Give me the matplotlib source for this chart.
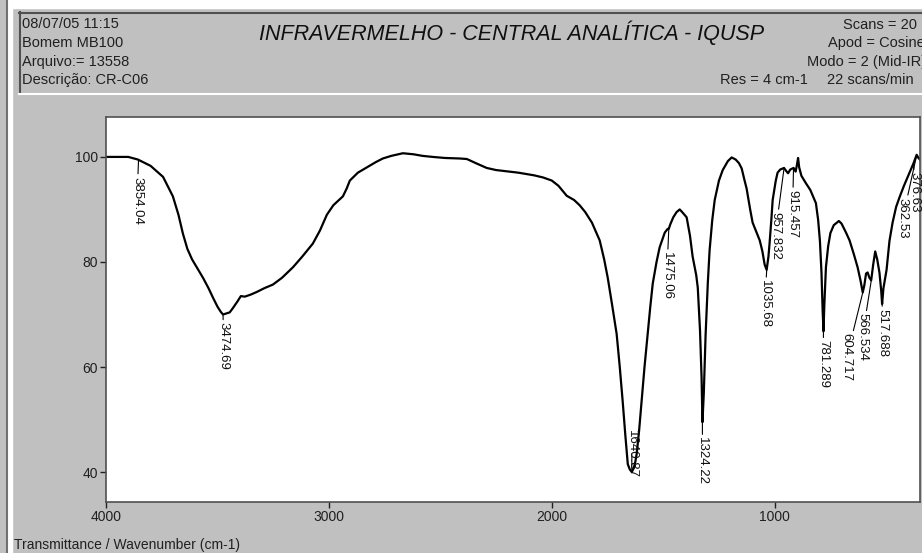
import matplotlib.pyplot as plt
from matplotlib.lines import Line2D
from matplotlib.patches import Rectangle

plt.rcParams['font.family'] = ['Liberation Sans', 'DejaVu Sans']

# spectrum (wavenumber cm-1, % transmittance)
wavenumber = [4000, 3950, 3900, 3857, 3800, 3744, 3700, 3675, 3655, 3635,
              3614, 3590, 3565, 3540, 3520, 3500, 3485, 3475, 3460, 3445,
              3431, 3410, 3395, 3377, 3350, 3323, 3290, 3251, 3210, 3161,
              3120, 3072, 3040, 3009, 2980, 2955, 2937, 2920, 2906, 2870,
              2830, 2790, 2758, 2720, 2668, 2620, 2580, 2534, 2480, 2413,
              2381, 2340, 2292, 2250, 2150, 2080, 2040, 2000, 1970, 1933,
              1900, 1875, 1850, 1820, 1785, 1765, 1749, 1730, 1709, 1695,
              1682, 1670, 1659, 1650, 1641, 1632, 1625, 1619, 1608, 1597,
              1584, 1570, 1558, 1547, 1530, 1516, 1493, 1480, 1475, 1468,
              1455, 1440, 1426, 1415, 1395, 1380, 1368, 1352, 1345, 1335,
              1328, 1324, 1318, 1310, 1300, 1292, 1280, 1269, 1250, 1233,
              1210, 1193, 1175, 1160, 1148, 1135, 1126, 1110, 1099, 1085,
              1067, 1055, 1045, 1036, 1028, 1023, 1015, 1009, 995, 987,
              975, 958, 948, 940, 930, 915, 906, 900, 895, 890,
              880, 860, 840, 815, 805, 797, 790, 785, 781, 777,
              770, 760, 750, 735, 712, 700, 680, 664, 645, 628,
              615, 605, 598, 590, 583, 575, 567, 558, 549, 540,
              530, 522, 518, 512, 498, 485, 471, 455, 440, 420,
              395, 377, 363, 355, 348]
transmittance = [100.0, 100.0, 100.0, 99.5, 98.3, 96.2, 92.5, 89.0, 85.4, 82.5,
                 80.5, 78.8, 77.0, 75.0, 73.2, 71.5, 70.5, 70.0, 70.2, 70.4,
                 71.2, 72.5, 73.5, 73.4, 73.8, 74.3, 75.0, 75.7, 77.0, 79.0,
                 81.0, 83.5, 86.0, 89.0, 90.8, 91.8, 92.5, 94.0, 95.5, 97.0,
                 98.0, 99.0, 99.7, 100.2, 100.7, 100.5, 100.2, 100.0, 99.8, 99.7,
                 99.6, 98.8, 97.9, 97.5, 97.0, 96.5, 96.1, 95.5, 94.5, 92.6,
                 91.8, 90.8, 89.5, 87.5, 84.1, 80.5, 77.0, 72.0, 66.3, 60.0,
                 53.5, 47.0, 41.5, 40.5, 40.0, 40.8, 42.0, 43.5, 48.0, 53.5,
                 60.0, 66.3, 71.5, 75.9, 80.0, 82.8, 85.6, 86.3, 86.3, 87.2,
                 88.5, 89.5, 90.0, 89.5, 88.5, 85.0, 81.0, 77.5, 75.1, 67.0,
                 58.0, 49.5, 55.0, 66.0, 76.0, 82.2, 88.0, 91.8, 95.5, 97.5,
                 99.2, 99.9, 99.5, 98.8, 97.8, 95.5, 94.0, 90.0, 87.5, 86.0,
                 84.1, 82.0, 79.5, 78.5, 81.0, 83.5, 88.0, 91.8, 95.5, 97.0,
                 97.6, 97.9, 97.3, 96.9, 97.6, 97.9, 97.2, 98.5, 99.8, 98.0,
                 96.4, 95.0, 93.7, 91.2, 88.0, 84.0, 78.0, 71.0, 66.8, 72.0,
                 79.0, 83.0, 85.5, 87.0, 87.8, 87.3, 85.6, 84.1, 81.5, 79.0,
                 76.5, 74.2, 75.5, 77.8, 78.0, 77.0, 76.5, 79.5, 82.0, 80.5,
                 78.0, 74.5, 72.0, 75.0, 78.5, 84.0, 87.5, 90.5, 92.3, 94.5,
                 97.0, 98.8, 100.4, 99.8, 99.5]

peak_wn = [3854.04, 3474.69, 1640.87, 1475.06, 1324.22, 1035.68, 957.832,
           915.457, 781.289, 604.717, 566.534, 517.688, 376.63, 362.53]
peak_t = [99.5, 70.0, 40.0, 86.3, 49.5, 78.5, 97.9,
          97.9, 66.8, 74.2, 76.5, 72.0, 98.8, 100.4]
peak_text = ['3854.04', '3474.69', '1640.87', '1475.06', '1324.22', '1035.68', '957.832',
             '915.457', '781.289', '604.717', '566.534', '517.688', '376.63', '362.53']
# where each label sits relative to its peak (pixels, right / down)
label_shift = [(-1.5, 17), (0, 8), (0, -42), (-2, 23), (0, 15), (-2, 10), (-9, 44),
               (-1, 22), (0, 9), (-16, 41), (-9, 33), (0, 5), (1, 9), (-14, 43)]

header_left = ['08/07/05 11:15', 'Bomem MB100', 'Arquivo:= 13558', 'Descrição: CR-C06']
header_right = ['Scans = 20', 'Apod = Cosine', 'Modo = 2 (Mid-IR)', 'Res = 4 cm-1']

W, H = 922, 553
bg = '#c0c0c0'
fig = plt.figure(figsize=(9.22, 5.53), dpi=100, facecolor=bg)


def fx(px):
    return px / W


def fy(py):
    return 1 - py / H


# window frame bits
fig.add_artist(Rectangle((fx(8), 0), fx(4), 1, color='white', transform=fig.transFigure, zorder=0))
fig.add_artist(Rectangle((fx(8), fy(8)), 1, fy(0) - fy(8), color='white', transform=fig.transFigure, zorder=0))
fig.add_artist(Line2D([fx(7), fx(7)], [0, 1], color='#707070', lw=1.5, transform=fig.transFigure))
fig.add_artist(Line2D([fx(19), 1], [fy(12.5), fy(12.5)], color='#505050', lw=1.5, transform=fig.transFigure))
fig.add_artist(Line2D([fx(20), fx(20)], [fy(12), fy(93)], color='#505050', lw=1.5, transform=fig.transFigure))
fig.add_artist(Line2D([fx(19), 1], [fy(94), fy(94)], color='white', lw=1.5, transform=fig.transFigure))

# header
small = dict(fontsize=10.5, color='#202020', va='center')
for i, s in enumerate(header_left):
    fig.text(fx(22), fy(24 + 18.8 * i), s, ha='left', **small)
fig.text(fx(843), fy(25), header_right[0], ha='left', **small)
fig.text(fx(828), fy(43), header_right[1], ha='left', **small)
fig.text(fx(807), fy(62), header_right[2], ha='left', **small)
fig.text(fx(720), fy(80), header_right[3], ha='left', **small)
fig.text(fx(827), fy(80), '22 scans/min', ha='left', **small)
fig.text(fx(512), fy(33), 'INFRAVERMELHO - CENTRAL ANALÍTICA - IQUSP',
         ha='center', va='center', fontsize=15.5, style='italic', color='#101010')

ax = fig.add_axes([fx(106), fy(502), fx(920) - fx(106), fy(117) - fy(502)])
ax.set_facecolor('white')
ax.plot(wavenumber, transmittance, color='black', lw=1.6)
ax.set_xlim(4000, 348)
ax.set_ylim(34.3, 107.6)
ax.set_xticks([4000, 3000, 2000, 1000])
ax.set_yticks([40, 60, 80, 100])
ax.tick_params(direction='out', length=4, width=1, labelsize=10, colors='#202020', pad=2)
for sp in ax.spines.values():
    sp.set_color('#505050')
    sp.set_linewidth(1.2)

for wn, t, lab, (dx, dy) in zip(peak_wn, peak_t, peak_text, label_shift):
    ax.annotate(lab, xy=(wn, t), xytext=(dx, -dy), textcoords='offset pixels',
                rotation=270, ha='center', va='top', fontsize=9.5, color='#101010',
                arrowprops=dict(arrowstyle='-', lw=0.8, color='black', shrinkA=0, shrinkB=0))

fig.text(fx(14), fy(545), 'Transmittance / Wavenumber (cm-1)', ha='left', va='center',
         fontsize=10, color='#202020')

fig.savefig('out.png', dpi=100, facecolor=bg)
